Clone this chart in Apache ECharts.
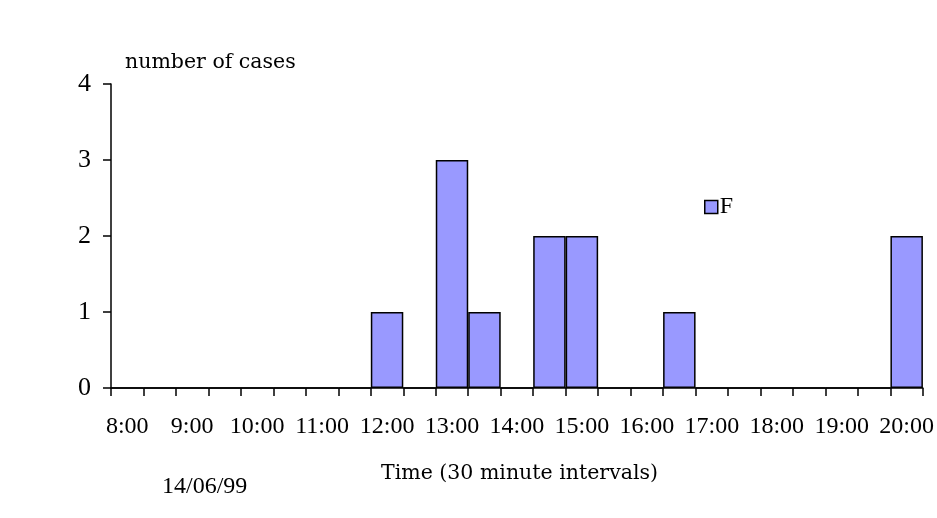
<!DOCTYPE html>
<html>
<head>
<meta charset="utf-8">
<script src="https://cdn.jsdelivr.net/npm/echarts@6/dist/echarts.min.js"></script>
<style>
html, body { margin: 0; padding: 0; background: #fff; }
#chart { width: 937px; height: 518px; }
</style>
</head>
<body>
<div id="chart"></div>
<script>
// half-hour bins from 8:00 to 20:00
var times = ['8:00','8:30','9:00','9:30','10:00','10:30','11:00','11:30','12:00','12:30',
    '13:00','13:30','14:00','14:30','15:00','15:30','16:00','16:30','17:00','17:30',
    '18:00','18:30','19:00','19:30','20:00'];
var casesF = [0,0,0,0,0,0,0,0,1,0,3,1,0,2,2,0,0,1,0,0,0,0,0,0,2];
var yTicks = [0, 1, 2, 3, 4];

var font = 'Liberation Serif';
var titleFont = 'DejaVu Serif';
var myChart = echarts.init(document.getElementById('chart'));

var option = {
    animation: false,
    backgroundColor: '#fff',
    textStyle: { fontFamily: font },
    grid: {
        left: 111,
        right: 14,
        top: 84,
        bottom: 130
    },
    legend: {
        data: ['F'],
        left: 704,
        top: 195,
        padding: 0,
        icon: 'rect',
        itemWidth: 13,
        itemHeight: 13,
        itemGap: 4,
        itemStyle: { borderColor: '#000', borderWidth: 1.5 },
        textStyle: { fontFamily: font, fontSize: 24, color: '#000', padding: [0, 0, 0, -3] }
    },
    graphic: [
        { type: 'text', left: 125, top: 52,
          style: { text: 'number of cases', font: '20.5px ' + titleFont, fill: '#000' } },
        { type: 'text', left: 381, top: 463,
          style: { text: 'Time (30 minute intervals)', font: '20.5px ' + titleFont, fill: '#000' } },
        { type: 'text', left: 162, top: 475,
          style: { text: '14/06/99', font: '24px ' + font, fill: '#000' } }
    ],
    xAxis: {
        type: 'category',
        data: times,
        boundaryGap: true,
        axisLine: { lineStyle: { color: '#000', width: 1.5 } },
        axisTick: { show: true, inside: false, length: 8, interval: 0, lineStyle: { color: '#000', width: 1.5 } },
        axisLabel: { interval: 1, color: '#000', fontSize: 24, fontFamily: font, margin: 27 },
        splitLine: { show: false }
    },
    yAxis: {
        type: 'value',
        min: yTicks[0],
        max: yTicks[yTicks.length - 1],
        interval: 1,
        axisLine: { show: true, lineStyle: { color: '#000', width: 1.5 } },
        axisTick: { show: true, length: 8, lineStyle: { color: '#000', width: 1.5 } },
        axisLabel: { color: '#000', fontSize: 26, fontFamily: font, margin: 20 },
        splitLine: { show: false }
    },
    series: [{
        name: 'F',
        type: 'bar',
        data: casesF,
        barCategoryGap: 0,
        itemStyle: {
            color: '#9999ff',
            borderColor: '#000',
            borderWidth: 1.5
        }
    }]
};

myChart.setOption(option);
</script>
</body>
</html>
